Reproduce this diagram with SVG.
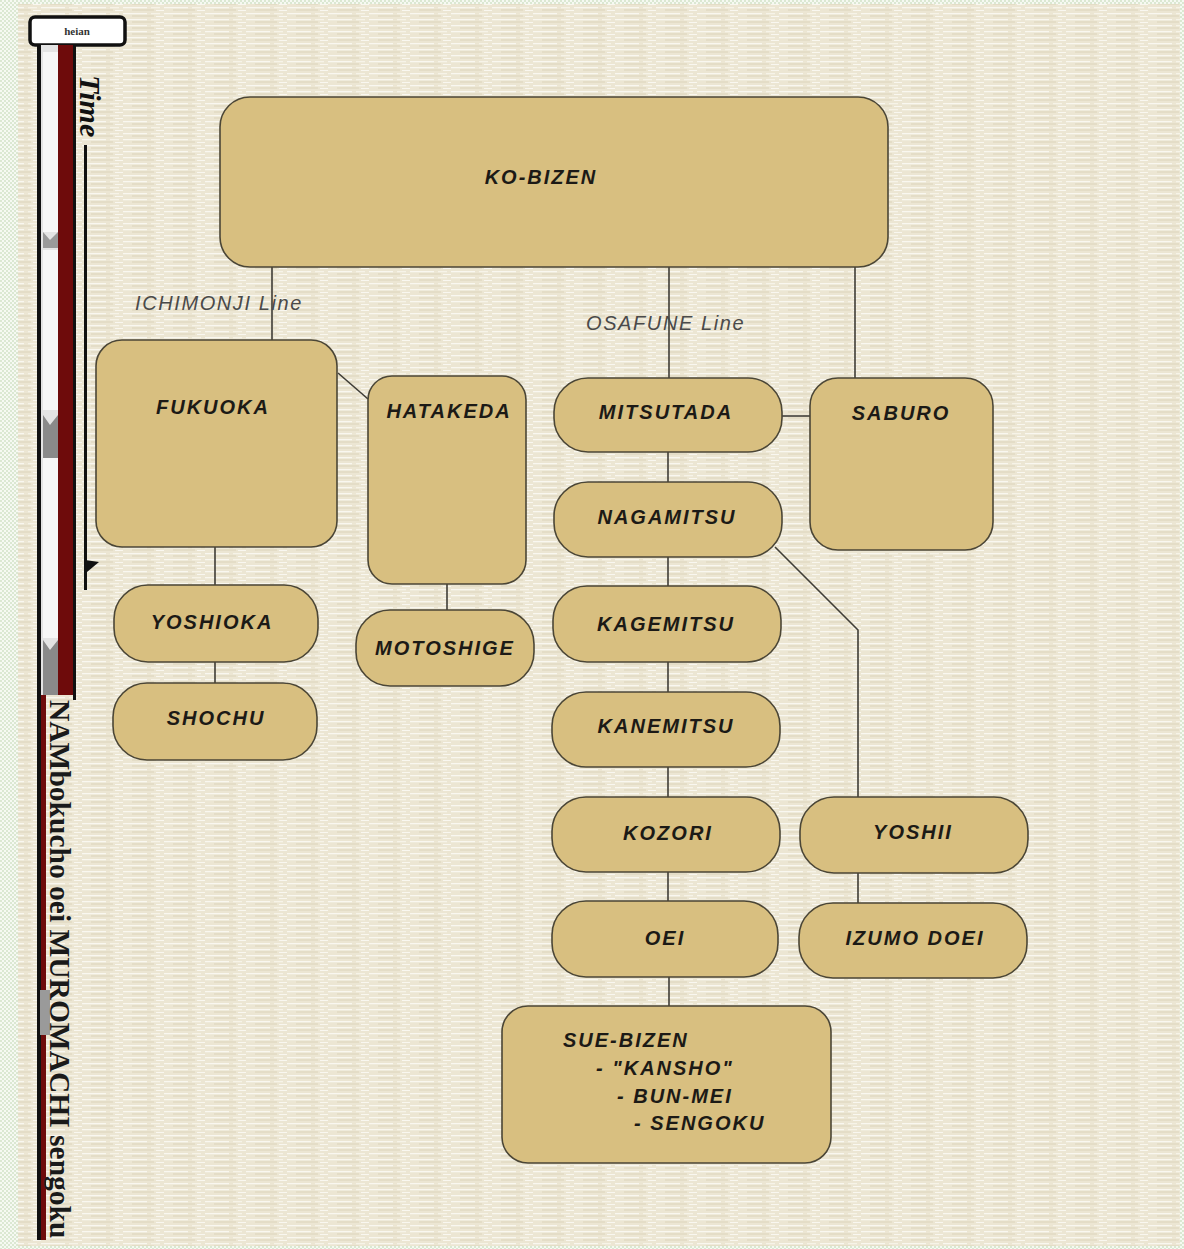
<svg xmlns="http://www.w3.org/2000/svg" width="1184" height="1249" viewBox="0 0 1184 1249">
<defs>
<pattern id="chk" width="4" height="4" patternUnits="userSpaceOnUse">
<rect width="4" height="4" fill="#f6f9f2"/>
<rect width="2" height="2" fill="#dbe8d2"/>
<rect x="2" y="2" width="2" height="2" fill="#dbe8d2"/>
</pattern>
<pattern id="tex" width="41" height="6" patternUnits="userSpaceOnUse">
<rect width="41" height="6" fill="#ece6d3"/>
<rect x="0" y="1" width="24" height="1.3" fill="#f9f7f0"/>
<rect x="28" y="1" width="9" height="1.3" fill="#f6f3e8"/>
<rect x="9" y="3.5" width="22" height="1" fill="#ddd5bc"/>
<rect x="33" y="4" width="8" height="1" fill="#f9f7f0"/>
</pattern>
<style>
.node rect{fill:#d8bf80;stroke:#4b4636;stroke-width:1.6}
.node text{font-family:"Liberation Sans",Arial,sans-serif;font-weight:bold;font-style:italic;font-size:20px;letter-spacing:2px;fill:#1c1a16;text-anchor:middle}
.node text.l{text-anchor:start}
#connectors line,#connectors polyline{stroke:#3f3d36;stroke-width:1.6;fill:none}
.lbl{font-family:"Liberation Sans",Arial,sans-serif;font-style:italic;font-size:20px;letter-spacing:1.6px;fill:#4a4a4a}
</style>
</defs>
<rect width="1184" height="1249" fill="url(#chk)"/>
<rect x="18" y="4" width="1162" height="1242" fill="url(#tex)"/>

<g id="timeline">
<rect x="30" y="17" width="95" height="28" rx="5" fill="#ffffff" stroke="#111" stroke-width="3.5"/>
<text x="77" y="35" font-family="Liberation Serif,serif" font-size="11" font-weight="bold" fill="#333" text-anchor="middle">heian</text>
<rect x="37" y="45" width="4" height="1195" fill="#111"/>
<rect x="41" y="45" width="32" height="650" fill="#e4e4e4"/>
<rect x="58" y="45" width="15" height="650" fill="#6e0b0b"/>
<rect x="73" y="45" width="3" height="655" fill="#111"/>
<rect x="43" y="52" width="15" height="180" fill="#f7f7f7"/>
<rect x="43" y="250" width="15" height="160" fill="#f7f7f7"/>
<rect x="43" y="458" width="15" height="180" fill="#f7f7f7"/>
<path d="M43 232 L50 240 L58 232 L58 248 L43 248 Z" fill="#9a9a9a"/>
<path d="M43 415 L50 425 L58 415 L58 458 L43 458 Z" fill="#8a8a8a"/>
<path d="M43 640 L50 650 L58 640 L58 695 L43 695 Z" fill="#8a8a8a"/>
<rect x="41" y="695" width="5" height="545" fill="#6e0b0b"/>
<rect x="40" y="990" width="10" height="45" fill="#9a9a9a"/>
<text transform="translate(80,75) rotate(90)" font-family="Liberation Serif,serif" font-weight="bold" font-style="italic" font-size="30" fill="#111">Time</text>
<line x1="85.5" y1="145" x2="85.5" y2="590" stroke="#111" stroke-width="3"/>
<path d="M85 560 L99 562 L87 572 Z" fill="#111"/>
<text transform="translate(50,700) rotate(90)" font-family="Liberation Serif,serif" font-weight="bold" font-size="29.5" fill="#1a1a1a">NAMbokucho oei MUROMACHI sengoku</text>
</g>

<g id="connectors">
<line x1="272" y1="267" x2="272" y2="340"/>
<line x1="338" y1="373" x2="368" y2="399"/>
<line x1="669" y1="267" x2="669" y2="378"/>
<line x1="855" y1="267" x2="855" y2="378"/>
<line x1="782" y1="416" x2="810" y2="416"/>
<line x1="668" y1="452" x2="668" y2="482"/>
<line x1="668" y1="557" x2="668" y2="586"/>
<line x1="668" y1="662" x2="668" y2="692"/>
<line x1="668" y1="767" x2="668" y2="797"/>
<line x1="668" y1="872" x2="668" y2="901"/>
<line x1="669" y1="977" x2="669" y2="1006"/>
<polyline points="775,547 858,630 858,797"/>
<line x1="858" y1="873" x2="858" y2="903"/>
<line x1="215" y1="547" x2="215" y2="585"/>
<line x1="215" y1="662" x2="215" y2="683"/>
<line x1="447" y1="584" x2="447" y2="610"/>
<text class="lbl" x="135" y="310">ICHIMONJI Line</text>
<text class="lbl" x="586" y="330">OSAFUNE Line</text>
</g>

<g id="ko-bizen" class="node"><rect x="220" y="97" width="668" height="170" rx="30"/><text x="541" y="184">KO-BIZEN</text></g>
<g id="fukuoka" class="node"><rect x="96" y="340" width="241" height="207" rx="26"/><text x="213" y="414">FUKUOKA</text></g>
<g id="hatakeda" class="node"><rect x="368" y="376" width="158" height="208" rx="24"/><text x="449" y="418">HATAKEDA</text></g>
<g id="mitsutada" class="node"><rect x="554" y="378" width="228" height="74" rx="34"/><text x="666" y="419">MITSUTADA</text></g>
<g id="saburo" class="node"><rect x="810" y="378" width="183" height="172" rx="28"/><text x="901" y="420">SABURO</text></g>
<g id="nagamitsu" class="node"><rect x="554" y="482" width="228" height="75" rx="34"/><text x="667" y="524">NAGAMITSU</text></g>
<g id="yoshioka" class="node"><rect x="114" y="585" width="204" height="77" rx="34"/><text x="212" y="629">YOSHIOKA</text></g>
<g id="motoshige" class="node"><rect x="356" y="610" width="178" height="76" rx="34"/><text x="445" y="655">MOTOSHIGE</text></g>
<g id="shochu" class="node"><rect x="113" y="683" width="204" height="77" rx="34"/><text x="216" y="725">SHOCHU</text></g>
<g id="kagemitsu" class="node"><rect x="553" y="586" width="228" height="76" rx="34"/><text x="666" y="631">KAGEMITSU</text></g>
<g id="kanemitsu" class="node"><rect x="552" y="692" width="228" height="75" rx="34"/><text x="666" y="733">KANEMITSU</text></g>
<g id="kozori" class="node"><rect x="552" y="797" width="228" height="75" rx="34"/><text x="668" y="840">KOZORI</text></g>
<g id="yoshii" class="node"><rect x="800" y="797" width="228" height="76" rx="34"/><text x="913" y="839">YOSHII</text></g>
<g id="oei" class="node"><rect x="552" y="901" width="226" height="76" rx="34"/><text x="665" y="945">OEI</text></g>
<g id="izumo-doei" class="node"><rect x="799" y="903" width="228" height="75" rx="34"/><text x="915" y="945">IZUMO DOEI</text></g>
<g id="sue-bizen" class="node"><rect x="502" y="1006" width="329" height="157" rx="26"/>
<text class="l" x="563" y="1047">SUE-BIZEN</text>
<text class="l" x="596" y="1075">- "KANSHO"</text>
<text class="l" x="617" y="1103">- BUN-MEI</text>
<text class="l" x="634" y="1130">- SENGOKU</text>
</g>
</svg>
